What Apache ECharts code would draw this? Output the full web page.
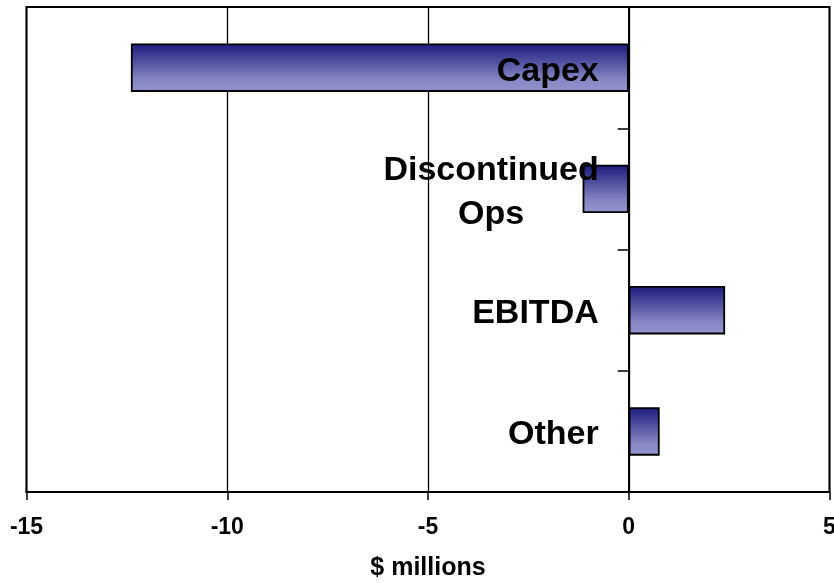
<!DOCTYPE html>
<html>
<head>
<meta charset="utf-8">
<script src="https://cdn.jsdelivr.net/npm/echarts@6/dist/echarts.min.js"></script>
<style>
  html, body { margin: 0; padding: 0; background: #fff; }
  #chart { width: 834px; height: 583px; }
</style>
</head>
<body>
<div id="chart"></div>
<script>
// Cash-flow drivers, $ millions
const categories = ['Capex', 'Discontinued\nOps', 'EBITDA', 'Other'];
const values = [-12.4, -1.15, 2.4, 0.77];
const axisMin = -15;
const axisMax = 5;
const axisStep = 5;
const axisTitle = '$ millions';

const FONT = '"Liberation Sans", Arial, sans-serif';

const GRID_LEFT = 26.5;
const GRID_RIGHT = 4.5;
const CHART_W = 834;

const barFill = new echarts.graphic.LinearGradient(0, 0, 0, 1, [
  { offset: 0, color: '#1a1a7c' },
  { offset: 0.75, color: '#8787c4' },
  { offset: 1, color: '#9393cf' }
]);

// the category axis sits on the zero line of the value axis
const plotW = CHART_W - GRID_LEFT - GRID_RIGHT;
const zeroOffset = -plotW * (0 - axisMin) / (axisMax - axisMin);

const chart = echarts.init(document.getElementById('chart'), null, { renderer: 'canvas' });

chart.setOption({
  backgroundColor: '#ffffff',
  animation: false,
  grid: {
    left: GRID_LEFT, right: GRID_RIGHT, top: 7, bottom: 91,
    outerBoundsMode: 'none',
    containLabel: false,
    show: true, borderColor: '#000', borderWidth: 2, backgroundColor: 'transparent'
  },
  xAxis: {
    type: 'value',
    min: axisMin, max: axisMax, interval: axisStep,
    name: axisTitle,
    nameLocation: 'middle',
    nameGap: 64,
    nameTextStyle: { fontFamily: FONT, fontWeight: 'bold', fontSize: 25, color: '#000' },
    axisLine: { show: true, lineStyle: { color: '#000', width: 2 } },
    axisTick: { show: true, length: 8, lineStyle: { color: '#000', width: 1.5 } },
    axisLabel: { margin: 24, fontFamily: FONT, fontWeight: 'bold', fontSize: 23, color: '#000' },
    splitLine: { show: true, lineStyle: { color: '#000', width: 1.3 } }
  },
  yAxis: {
    type: 'category',
    data: categories,
    inverse: true,
    position: 'left',
    offset: zeroOffset,
    z: 10,
    axisLine: { show: true, onZero: false, lineStyle: { color: '#000', width: 2 } },
    axisTick: { show: true, length: 11, lineStyle: { color: '#000', width: 1.5 } },
    axisLabel: {
      show: true,
      margin: 30,
      align: 'right',
      hideOverlap: false,
      padding: [7, 0, 0, 0],
      formatter: v => v.split('\n').map(line => '{c|' + line + '}').join('\n'),
      rich: {
        c: {
          align: 'center',
          fontFamily: FONT, fontWeight: 'bold', fontSize: 34, lineHeight: 44, color: '#000'
        }
      }
    },
    splitLine: { show: false }
  },
  series: [{
    type: 'bar',
    data: values,
    barWidth: '40%',
    itemStyle: { color: barFill, borderColor: '#000', borderWidth: 1.8 }
  }]
});
</script>
</body>
</html>
